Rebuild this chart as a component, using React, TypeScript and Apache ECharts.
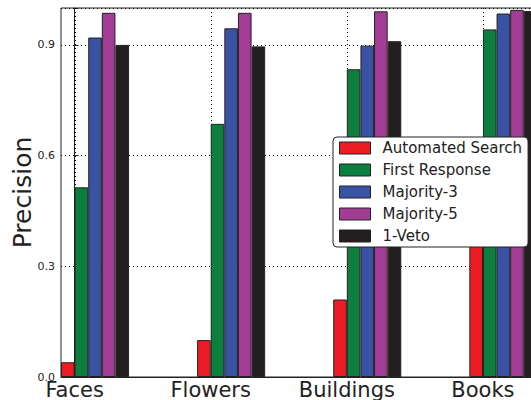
import React, { useEffect, useRef } from "react";
import * as echarts from "echarts";

const categories = ["Faces", "Flowers", "Buildings", "Books"];
const seriesNames = ["Automated Search", "First Response", "Majority-3", "Majority-5", "1-Veto"];
const automatedSearch = [0.04, 0.1, 0.21, 0.5];
const firstResponse = [0.514, 0.686, 0.834, 0.942];
const majority3 = [0.92, 0.945, 0.898, 0.985];
const majority5 = [0.987, 0.987, 0.991, 0.995];
const oneVeto = [0.9, 0.896, 0.91, 0.992];
const yTicks = [0, 0.3, 0.6, 0.9];
const seriesColors = ["#ed1c24", "#0c7f3e", "#3953a4", "#a33c95", "#231f20"];

const allValues = [automatedSearch, firstResponse, majority3, majority5, oneVeto];
const BAR_UNIT = 0.1;
const FONT = "DejaVu Sans";

export default function App() {
  const ref = useRef<HTMLDivElement>(null);
  useEffect(() => {
    if (!ref.current) return;
    const chart = echarts.init(ref.current, null, { renderer: "svg" });
    const gridLeft = 61;
    const gridRight = -6.4;
    const xMin = -0.1;
    const xMax = 3.4;
    const yMax = 1;
    const pxPerUnit = (531 - gridLeft - gridRight) / (xMax - xMin);
    const barWidth = pxPerUnit * BAR_UNIT;

    const series: any[] = allValues.map((vals, i) => ({
      name: seriesNames[i],
      type: "bar",
      barWidth,
      barGap: "-100%",
      itemStyle: { color: seriesColors[i], borderColor: "#222", borderWidth: 1 },
      data: vals.map((v, c) => [c + (i - 0.5) * BAR_UNIT, v]),
      z: 3,
    }));
    series.push({
      type: "custom",
      name: "vgrid",
      silent: true,
      z: 1,
      data: categories.map((_, c) => [c]),
      renderItem: (params: any, api: any) => {
        const c = api.value(0);
        const p1 = api.coord([c, yMax]);
        const p2 = api.coord([c, 0]);
        const x = Math.round(p1[0]) + 0.5;
        return {
          type: "line",
          shape: { x1: x, y1: p1[1], x2: x, y2: p2[1] },
          style: { stroke: "#000", lineWidth: 1, lineDash: [1, 3] },
        };
      },
    });

    chart.setOption({
      animation: false,
      backgroundColor: "#fff",
      grid: {
        left: gridLeft,
        right: gridRight,
        top: 8,
        bottom: 23,
        containLabel: false,
        outerBoundsMode: "none",
        show: true,
        borderColor: "#222",
        borderWidth: 1,
        backgroundColor: "transparent",
      },
      legend: {
        data: seriesNames,
        orient: "vertical",
        left: 333,
        top: 137,
        itemWidth: 31,
        itemHeight: 12,
        itemGap: 6,
        icon: "rect",
        padding: [3, 6, 3, 6],
        backgroundColor: "#fff",
        borderColor: "#222",
        borderWidth: 1,
        borderRadius: 4,
        itemStyle: { borderColor: "#222", borderWidth: 1 },
        textStyle: {
          fontFamily: FONT,
          fontSize: 15,
          color: "#222",
          lineHeight: 16,
          padding: [0, 0, 0, 7],
        },
        z: 10,
      },
      xAxis: {
        type: "value",
        min: xMin,
        max: xMax,
        splitLine: { show: false },
        axisLine: { show: true, lineStyle: { color: "#222", width: 1 } },
        axisTick: { show: false },
        axisLabel: {
          customValues: categories.map((_, c) => c),
          formatter: (v: number) => categories[Math.round(v)] ?? "",
          fontFamily: FONT,
          fontSize: 21,
          color: "#222",
          margin: 2,
        },
      },
      yAxis: {
        type: "value",
        min: 0,
        max: yMax,
        interval: 0.3,
        name: "Precision",
        nameLocation: "middle",
        nameGap: 26,
        nameMoveOverlap: false,
        nameTextStyle: { fontFamily: FONT, fontSize: 25, color: "#222" },
        axisLine: { show: true, lineStyle: { color: "#222", width: 1 } },
        axisTick: { show: true, inside: true, length: 4, lineStyle: { color: "#222" } },
        splitLine: { show: true, lineStyle: { type: [1, 3], color: "#000", width: 1 } },
        axisLabel: {
          customValues: yTicks,
          formatter: (v: number) => v.toFixed(1),
          fontFamily: FONT,
          fontSize: 11,
          color: "#222",
          margin: 6,
        },
      },
      series,
    });
    return () => chart.dispose();
  }, []);
  return (
    <div
      ref={ref}
      style={{ position: "absolute", left: 0, top: 0, width: 531, height: 400, overflow: "hidden" }}
    />
  );
}
